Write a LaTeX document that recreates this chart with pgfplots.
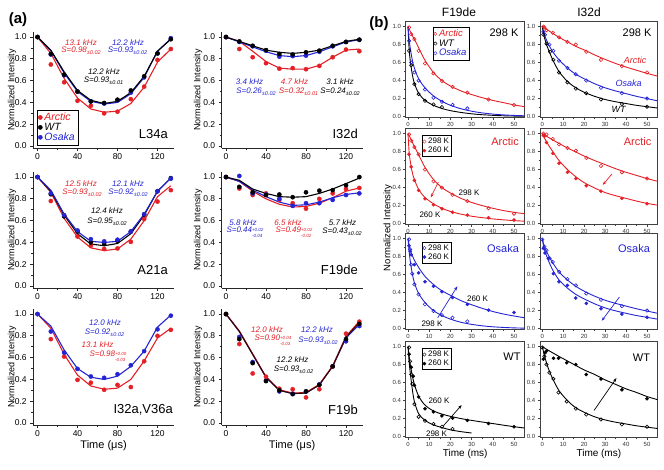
\documentclass[border=0pt]{standalone}
\usepackage{fontspec}
\setmainfont{Liberation Sans}
\usepackage{pgfplots}
\pgfplotsset{compat=1.18}
\usepackage{pgfplotstable}
\usetikzlibrary{arrows.meta}
\definecolor{redA}{RGB}{228,32,38}
\definecolor{blueA}{RGB}{36,36,212}
\newcommand{\fs}[1]{\fontsize{#1}{#1}\selectfont}
\newcommand{\pmv}[1]{\raisebox{-0.55ex}{\fs{5.5}±#1}}
\newcommand{\ud}[2]{\raisebox{-1.2ex}{\fs{4.5}\shortstack[l]{#1\\#2}}}
\newcommand{\A}[4]{\node[font=\fs{8}\itshape,text=#3,inner sep=0pt] at (#1pt,-#2pt) {#4};}
\newcommand{\B}[5]{\node[font=\fs{#4},text=#3,inner sep=0pt] at (#1pt,-#2pt) {#5};}

\pgfplotstableread{
t rp rf bp bf kp kf
0 1.00 1.00 1.00 1.00 1.00 1.00
13.33 0.748 0.85 0.84 0.875 0.845 0.88
26.67 0.585 0.62 0.65 0.67 0.655 0.68
40 0.415 0.44 0.50 0.50 0.50 0.51
53.33 0.37 0.34 0.41 0.41 0.41 0.42
66.67 0.30 0.31 0.39 0.385 0.395 0.39
80 0.315 0.32 0.42 0.40 0.425 0.41
93.33 0.43 0.39 0.49 0.48 0.51 0.49
106.67 0.545 0.54 0.63 0.63 0.64 0.64
120 0.79 0.77 0.85 0.87 0.85 0.87
133.33 0.89 0.89 0.99 0.985 0.98 0.98
}\tabLA
\pgfplotstableread{
t rp rf bp bf kp kf
0 1.00 1.00 1.00 1.00 1.00 1.00
13.33 0.89 0.96 0.955 0.955 0.96 0.96
26.67 0.815 0.87 0.915 0.91 0.92 0.92
40 0.76 0.775 0.875 0.865 0.88 0.88
53.33 0.71 0.715 0.82 0.83 0.845 0.86
66.67 0.715 0.705 0.825 0.82 0.84 0.85
80 0.705 0.705 0.83 0.83 0.86 0.86
93.33 0.735 0.74 0.865 0.865 0.875 0.88
106.67 0.815 0.815 0.915 0.91 0.92 0.92
120 0.885 0.88 0.955 0.955 0.955 0.96
133.33 0.87 0.89 0.975 0.975 0.975 0.98
}\tabID
\pgfplotstableread{
t rp rf bp bf kp kf
0 1.00 1.00 1.00 1.00 1.00 1.00
13.33 0.78 0.86 0.85 0.88 0.842 0.87
26.67 0.64 0.62 0.65 0.66 0.64 0.65
40 0.455 0.45 0.51 0.50 0.50 0.48
53.33 0.37 0.35 0.43 0.41 0.40 0.385
66.67 0.34 0.325 0.41 0.40 0.385 0.37
80 0.345 0.34 0.425 0.41 0.415 0.39
93.33 0.405 0.43 0.50 0.50 0.50 0.48
106.67 0.615 0.60 0.66 0.66 0.655 0.65
120 0.775 0.82 0.87 0.87 0.87 0.87
133.33 0.88 0.92 0.985 0.99 0.99 0.99
}\tabAA
\pgfplotstableread{
t rp rf bp bf kp kf
0 1.00 1.00 1.00 1.00 1.00 1.00
13.33 0.895 0.96 1.01 0.96 0.91 0.97
26.67 0.835 0.87 0.85 0.88 0.86 0.89
40 0.85 0.80 0.84 0.82 0.835 0.85
53.33 0.79 0.75 0.80 0.77 0.84 0.82
66.67 0.76 0.725 0.735 0.74 0.815 0.815
80 0.71 0.73 0.76 0.745 0.86 0.82
93.33 0.80 0.76 0.76 0.77 0.875 0.85
106.67 0.85 0.81 0.79 0.81 0.88 0.89
120 0.89 0.87 0.835 0.84 0.925 0.94
133.33 0.90 0.90 0.85 0.855 1.00 0.99
}\tabFD
\pgfplotstableread{
t rp rf bp bf
0 1.00 1.00 1.00 1.00
13.33 0.77 0.87 0.84 0.89
26.67 0.61 0.63 0.646 0.67
40 0.396 0.44 0.497 0.50
53.33 0.37 0.34 0.427 0.42
66.67 0.305 0.31 0.415 0.40
80 0.35 0.32 0.448 0.43
93.33 0.33 0.40 0.53 0.52
106.67 0.567 0.57 0.66 0.66
120 0.80 0.78 0.86 0.88
133.33 0.855 0.87 0.985 0.99
}\tabIV
\pgfplotstableread{
t rp rf bp bf kp kf
0 1.00 1.00 1.00 1.00 1.00 1.00
13.33 0.725 0.845 0.79 0.84 0.77 0.84
26.67 0.455 0.635 0.56 0.63 0.55 0.63
40 0.425 0.425 0.39 0.42 0.385 0.42
53.33 0.315 0.305 0.29 0.30 0.30 0.30
66.67 0.31 0.275 0.27 0.27 0.265 0.27
80 0.235 0.28 0.29 0.275 0.29 0.275
93.33 0.31 0.355 0.355 0.35 0.35 0.35
106.67 0.52 0.525 0.52 0.52 0.52 0.52
120 0.82 0.795 0.75 0.78 0.77 0.79
133.33 0.93 0.935 0.89 0.905 0.91 0.92
}\tabFB

\pgfplotsset{
  aax/.style={scale only axis, width=140.8pt, height=116.6pt,
    xmin=-4.3, xmax=136.5, ymin=-0.02, ymax=1.05,
    axis x line*=bottom, axis y line*=left,
    xtick={0,40,80,120}, minor xtick={20,60,100},
    ytick={0,0.2,0.4,0.6,0.8,1.0}, minor ytick={0.1,0.3,0.5,0.7,0.9},
    tick align=outside, major tick length=3pt, minor tick length=1.8pt,
    axis line style={line width=0.8pt,black!85},
    every tick/.style={line width=0.7pt,black!85},
    tick label style={font=\fs{8.5}},
    /pgf/number format/assume math mode=true,
    xticklabel style={yshift=1.5pt},
    yticklabel style={/pgf/number format/.cd,fixed,fixed zerofill,precision=1},
    ylabel={Normalized Intensity},
    ylabel style={font=\fs{9}, at={(axis description cs:-0.15,0.5)}, anchor=center},
    clip=false},
  aR/.style={aax, ylabel style={at={(axis description cs:-0.168,0.5)}}},
  bax/.style={scale only axis, height=95.9pt,
    xmin=-1, xmax=55, ymin=-0.01, ymax=1.055,
    xtick={0,10,20,30,40,50}, minor xtick={5,15,25,35,45},
    ytick={0,0.2,0.4,0.6,0.8,1.0}, minor ytick={0.1,0.3,0.5,0.7,0.9},
    xtick pos=left, ytick pos=left, tick align=outside,
    major tick length=2.5pt, minor tick length=1.5pt,
    axis line style={line width=0.9pt,black!75},
    every tick/.style={line width=0.6pt,black!75},
    tick label style={font=\fs{6}, text=black!80},
    /pgf/number format/assume math mode=true,
    xticklabel style={yshift=1pt},
    yticklabel style={xshift=1pt,/pgf/number format/.cd,fixed,fixed zerofill,precision=1},
    clip=false},
  bL/.style={bax, width=118.7pt},
  bR/.style={bax, width=117.3pt},
  fitA/.style={line width=1.1pt, forget plot, mark=none},
  ptA/.style={only marks, mark=*, mark size=2.1pt, forget plot},
  fitB/.style={line width=0.9pt, smooth, tension=0.5, forget plot, mark=none},
  opB/.style={only marks, mark=o, mark size=1.7pt, mark options={fill=white, line width=0.6pt}, forget plot},
  fiB/.style={only marks, mark=*, mark size=1.6pt, forget plot},
  legB/.style={legend style={at={(0.136,0.93)}, anchor=north west, font=\fs{8}, draw=black, inner sep=0.5pt, row sep=-2pt, legend cell align=left}},
}

\begin{document}
\begin{tikzpicture}
\useasboundingbox (0pt,0pt) rectangle (664pt,-470pt);

% ================= panel (a) =================
% L34a
\begin{axis}[aax, at={(33.2pt,-148.2pt)}, anchor=south west,
  legend style={at={(0.027,0.027)}, anchor=south west, font=\fs{10.5}, draw=black, inner sep=1pt, row sep=-3pt, legend cell align=left}]
\addplot[redA, fitA] table[x=t,y=rf]{\tabLA};
\addplot[redA, ptA] table[x=t,y=rp]{\tabLA};
\addplot[blueA, fitA] table[x=t,y=bf]{\tabLA};
\addplot[blueA, ptA] table[x=t,y=bp]{\tabLA};
\addplot[black, fitA] table[x=t,y=kf]{\tabLA};
\addplot[black, ptA] table[x=t,y=kp]{\tabLA};
\addlegendimage{only marks, mark=*, mark size=2.1pt, redA}
\addlegendentry{\textcolor{redA}{\itshape Arctic}}
\addlegendimage{only marks, mark=*, mark size=2.1pt, black}
\addlegendentry{\itshape WT}
\addlegendimage{only marks, mark=*, mark size=2.1pt, blueA}
\addlegendentry{\textcolor{blueA}{\itshape Osaka}}
\end{axis}
% I32d
\begin{axis}[aR, at={(221.7pt,-148.2pt)}, anchor=south west]
\addplot[redA, fitA] table[x=t,y=rf]{\tabID};
\addplot[redA, ptA] table[x=t,y=rp]{\tabID};
\addplot[blueA, fitA] table[x=t,y=bf]{\tabID};
\addplot[blueA, ptA] table[x=t,y=bp]{\tabID};
\addplot[black, fitA] table[x=t,y=kf]{\tabID};
\addplot[black, ptA] table[x=t,y=kp]{\tabID};
\end{axis}
% A21a
\begin{axis}[aax, at={(33.2pt,-288.2pt)}, anchor=south west]
\addplot[redA, fitA] table[x=t,y=rf]{\tabAA};
\addplot[redA, ptA] table[x=t,y=rp]{\tabAA};
\addplot[black, fitA] table[x=t,y=kf]{\tabAA};
\addplot[black, ptA] table[x=t,y=kp]{\tabAA};
\addplot[blueA, fitA] table[x=t,y=bf]{\tabAA};
\addplot[blueA, ptA] table[x=t,y=bp]{\tabAA};
\end{axis}
% F19de
\begin{axis}[aR, at={(221.7pt,-288.2pt)}, anchor=south west]
\addplot[redA, fitA] table[x=t,y=rf]{\tabFD};
\addplot[redA, ptA] table[x=t,y=rp]{\tabFD};
\addplot[blueA, fitA] table[x=t,y=bf]{\tabFD};
\addplot[blueA, ptA] table[x=t,y=bp]{\tabFD};
\addplot[black, fitA] table[x=t,y=kf]{\tabFD};
\addplot[black, ptA] table[x=t,y=kp]{\tabFD};
\end{axis}
% I32a,V36a
\begin{axis}[aax, at={(33.2pt,-425.2pt)}, anchor=south west, xlabel={Time (μs)},
  xlabel style={font=\fs{11}, at={(axis description cs:0.5,0)}, anchor=center, yshift=-20pt}]
\addplot[redA, fitA] table[x=t,y=rf]{\tabIV};
\addplot[redA, ptA] table[x=t,y=rp]{\tabIV};
\addplot[blueA, fitA] table[x=t,y=bf]{\tabIV};
\addplot[blueA, ptA] table[x=t,y=bp]{\tabIV};
\end{axis}
% F19b
\begin{axis}[aR, at={(221.7pt,-425.2pt)}, anchor=south west, xlabel={Time (μs)},
  xlabel style={font=\fs{11}, at={(axis description cs:0.5,0)}, anchor=center, yshift=-20pt}]
\addplot[blueA, fitA] table[x=t,y=bf]{\tabFB};
\addplot[blueA, ptA] table[x=t,y=bp]{\tabFB};
\addplot[redA, fitA] table[x=t,y=rf]{\tabFB};
\addplot[redA, ptA] table[x=t,y=rp]{\tabFB};
\addplot[black!80!redA, fitA] table[x=t,y=kf]{\tabFB};
\addplot[black, ptA] table[x=t,y=kp]{\tabFB};
\end{axis}

% annotations (a)
\node[font=\fs{15}\bfseries, inner sep=0pt] at (18pt,-20pt) {(a)};
\A{81}{42.5}{redA}{13.1 kHz}
\A{81}{51}{redA}{S=0.98\pmv{0.02}}
\A{128}{42.5}{blueA}{12.2 kHz}
\A{127.5}{51}{blueA}{S=0.93\pmv{0.02}}
\A{104}{71.5}{black}{12.2 kHz}
\A{103.5}{81}{black}{S=0.93\pmv{0.01}}
\node[font=\fs{13}, anchor=east, inner sep=0pt] at (168pt,-134pt) {L34a};

\A{249.5}{82}{blueA}{3.4 kHz}
\A{256}{92}{blueA}{S=0.26\pmv{0.02}}
\A{294.5}{82}{redA}{4.7 kHz}
\A{298.5}{92}{redA}{S=0.32\pmv{0.01}}
\A{340}{82}{black}{3.1 kHz}
\A{340}{92}{black}{S=0.24\pmv{0.02}}
\node[font=\fs{13}, anchor=east, inner sep=0pt] at (358pt,-134pt) {I32d};

\A{81}{183.5}{redA}{12.5 kHz}
\A{82}{193}{redA}{S=0.93\pmv{0.02}}
\A{128}{183.5}{blueA}{12.1 kHz}
\A{128}{193}{blueA}{S=0.92\pmv{0.02}}
\A{107}{211}{black}{12.4 kHz}
\A{107}{222}{black}{S=0.95\pmv{0.02}}
\node[font=\fs{13}, anchor=east, inner sep=0pt] at (168pt,-270pt) {A21a};

\A{243}{222.5}{blueA}{5.8 kHz}
\A{245}{232}{blueA}{S=0.44\ud{+0.02}{-0.04}}
\A{288}{222.5}{redA}{6.5 kHz}
\A{294}{232}{redA}{S=0.49\ud{+0.02}{-0.02}}
\A{342.5}{222.5}{black}{5.7 kHz}
\A{342}{232}{black}{S=0.43\pmv{0.02}}
\node[font=\fs{13}, anchor=east, inner sep=0pt] at (358pt,-270pt) {F19de};

\A{105}{322.5}{blueA}{12.0 kHz}
\A{104.5}{333}{blueA}{S=0.92\pmv{0.02}}
\A{97.5}{345}{redA}{13.1 kHz}
\A{108}{356}{redA}{S=0.98\ud{+0.00}{-0.03}}
\node[font=\fs{13}, anchor=east, inner sep=0pt] at (173pt,-410pt) {I32a,V36a};

\A{267}{329.5}{redA}{12.0 kHz}
\A{273}{340.5}{redA}{S=0.90\ud{+0.04}{-0.03}}
\A{317}{329.5}{blueA}{12.2 kHz}
\A{318}{340.5}{blueA}{S=0.93\pmv{0.02}}
\A{292.5}{359.5}{black}{12.2 kHz}
\A{293.5}{370}{black}{S=0.93\pmv{0.02}}
\node[font=\fs{13}, anchor=east, inner sep=0pt] at (358pt,-410pt) {F19b};

% ================= panel (b) =================
% row 1 left
\begin{axis}[bL, at={(405.9pt,-117.5pt)}, anchor=south west,
  legend style={at={(0.228,0.944)}, anchor=north west, font=\fs{9.5}\itshape, draw=black, inner sep=0.5pt, row sep=-2.5pt, legend cell align=left}]
\addplot[redA, fitB] coordinates {(0,1.0)(0.5,0.975)(1,0.95)(2,0.9)(3,0.86)(5,0.765)(8,0.625)(12,0.49)(16,0.40)(20,0.34)(25,0.285)(30,0.245)(35,0.21)(40,0.18)(45,0.155)(50,0.13)(55,0.11)};
\addplot[redA, opB] coordinates {(0.5,0.99)(1.5,0.915)(3,0.86)(5,0.73)(8,0.59)(12,0.48)(16,0.395)(21,0.33)(28,0.265)(38,0.19)(50,0.13)};
\addplot[black, fitB] coordinates {(0,1.0)(0.5,0.76)(1,0.63)(2,0.47)(3,0.37)(5,0.26)(8,0.18)(12,0.125)(16,0.09)(20,0.066)(25,0.046)(30,0.031)(35,0.021)(40,0.014)(45,0.009)(50,0.006)(55,0.004)};
\addplot[black, opB] coordinates {(0.5,0.73)(1.5,0.57)(3,0.36)(5,0.25)(8,0.175)(12,0.135)(16,0.105)};
\addplot[blueA, fitB] coordinates {(0,1.0)(0.5,0.86)(1,0.77)(2,0.63)(3,0.54)(5,0.42)(8,0.32)(12,0.23)(16,0.17)(20,0.125)(25,0.087)(30,0.06)(35,0.041)(40,0.028)(45,0.019)(50,0.013)(55,0.009)};
\addplot[blueA, opB] coordinates {(0.5,0.84)(1.5,0.6)(3,0.49)(5,0.40)(8,0.30)(12,0.21)(16,0.165)(21,0.13)(28,0.09)};
\addlegendimage{only marks, mark=o, mark size=1.7pt, redA}
\addlegendentry{\textcolor{redA}{Arctic}}
\addlegendimage{only marks, mark=o, mark size=1.7pt, black}
\addlegendentry{WT}
\addlegendimage{only marks, mark=o, mark size=1.7pt, blueA}
\addlegendentry{\textcolor{blueA}{Osaka}}
\end{axis}
% row 1 right
\begin{axis}[bR, at={(540.2pt,-117.5pt)}, anchor=south west]
\addplot[redA, fitB] coordinates {(0,1.0)(2,0.97)(5,0.925)(8,0.88)(12,0.83)(16,0.78)(20,0.74)(25,0.685)(30,0.635)(35,0.59)(40,0.55)(45,0.515)(50,0.48)(55,0.45)};
\addplot[redA, opB] coordinates {(0.5,1.0)(1,0.99)(2,0.96)(5,0.93)(8,0.88)(12,0.83)(16,0.80)(21,0.72)(28,0.63)(38,0.56)(50,0.49)};
\addplot[blueA, fitB] coordinates {(0,1.0)(0.5,0.95)(1,0.91)(2,0.85)(3,0.8)(5,0.72)(8,0.63)(12,0.54)(16,0.47)(20,0.42)(25,0.365)(30,0.32)(35,0.285)(40,0.255)(45,0.225)(50,0.2)(55,0.175)};
\addplot[blueA, opB] coordinates {(0.5,0.94)(1.3,0.91)(3.4,0.80)(5.3,0.73)(8,0.62)(12,0.54)(16,0.47)(21,0.40)(28,0.32)(38,0.26)(50,0.20)};
\addplot[black, fitB] coordinates {(0,1.0)(0.5,0.93)(1,0.88)(2,0.8)(3,0.74)(5,0.63)(8,0.5)(12,0.39)(16,0.32)(20,0.27)(25,0.225)(30,0.19)(35,0.165)(40,0.145)(45,0.125)(50,0.11)(55,0.095)};
\addplot[black, opB] coordinates {(0.5,0.91)(2,0.81)(3.7,0.72)(5.3,0.63)(8,0.49)(12,0.38)(16,0.31)(21,0.26)(28,0.19)(38,0.14)(50,0.11)};
\end{axis}
% row 2 left
\begin{axis}[bL, legB, at={(405.9pt,-224.5pt)}, anchor=south west]
\addplot[redA, fitB] coordinates {(0,1.0)(0.5,0.98)(1,0.955)(2,0.905)(3,0.855)(5,0.765)(8,0.625)(12,0.49)(16,0.40)(20,0.34)(25,0.28)(30,0.235)(35,0.2)(40,0.17)(45,0.145)(50,0.125)(55,0.11)};
\addplot[redA, opB] coordinates {(0.5,0.99)(1.5,0.92)(3,0.85)(5,0.77)(8,0.60)(12,0.47)(16,0.40)(21,0.32)(28,0.25)(38,0.17)(50,0.11)};
\addplot[redA, fitB] coordinates {(0,1.0)(0.5,0.8)(1,0.7)(2,0.57)(3,0.49)(5,0.38)(8,0.29)(12,0.22)(16,0.17)(20,0.135)(25,0.105)(30,0.082)(35,0.066)(40,0.052)(45,0.042)(50,0.033)(55,0.027)};
\addplot[redA, fiB] coordinates {(0.5,0.77)(1.5,0.63)(3,0.48)(5,0.37)(8,0.275)(12,0.21)(16,0.165)(21,0.125)(28,0.095)(38,0.065)(50,0.04)};
\draw[-{Stealth[length=4pt,width=3pt]}, redA, line width=0.7pt] (axis cs:14.3,0.46) -- (axis cs:10.7,0.29);
\addlegendimage{only marks, mark=o, mark size=1.7pt, redA}
\addlegendentry{298 K}
\addlegendimage{only marks, mark=*, mark size=1.6pt, redA}
\addlegendentry{260 K}
\end{axis}
% row 2 right
\begin{axis}[bR, at={(540.2pt,-224.5pt)}, anchor=south west]
\addplot[redA, fitB] coordinates {(0,1.0)(2,0.97)(5,0.93)(8,0.89)(12,0.84)(16,0.795)(20,0.75)(25,0.70)(30,0.655)(35,0.61)(40,0.57)(45,0.535)(50,0.5)(55,0.47)};
\addplot[redA, opB] coordinates {(0.5,1.0)(1,0.98)(2,0.99)(5,0.94)(8,0.88)(12,0.84)(16,0.81)(21,0.73)(28,0.64)(38,0.57)(50,0.50)};
\addplot[redA, fitB] coordinates {(0,1.0)(1,0.95)(2,0.91)(3,0.87)(5,0.8)(8,0.7)(12,0.6)(16,0.52)(20,0.455)(25,0.395)(30,0.345)(35,0.31)(40,0.28)(45,0.25)(50,0.225)(55,0.205)};
\addplot[redA, fiB] coordinates {(0.5,0.98)(1,0.97)(2,0.90)(5,0.78)(8,0.67)(12,0.57)(16,0.50)(21,0.42)(28,0.36)(38,0.28)(50,0.22)};
\draw[-{Stealth[length=4pt,width=3pt]}, redA, line width=0.7pt] (axis cs:33.2,0.55) -- (axis cs:28.9,0.43);
\end{axis}
% row 3 left
\begin{axis}[bL, legB, at={(405.9pt,-329.5pt)}, anchor=south west, legend style={at={(0.136,0.915)}}]
\addplot[blueA, fitB] coordinates {(0,1.0)(0.5,0.86)(1,0.76)(2,0.61)(3,0.51)(5,0.39)(8,0.29)(12,0.2)(16,0.145)(20,0.105)(25,0.07)(30,0.047)(35,0.031)(40,0.02)(45,0.013)(50,0.008)(55,0.005)};
\addplot[blueA, opB] coordinates {(0.5,0.99)(1,0.88)(1.5,0.71)(2,0.61)(3,0.49)(5,0.38)(8,0.27)(12,0.195)(16,0.15)(21,0.12)(28,0.08)};
\addplot[blueA, fitB] coordinates {(0,1.0)(0.5,0.93)(1,0.88)(2,0.81)(3,0.76)(5,0.68)(8,0.58)(12,0.49)(16,0.42)(20,0.37)(25,0.31)(30,0.265)(35,0.225)(40,0.19)(45,0.162)(50,0.14)(55,0.12)};
\addplot[blueA, fiB] coordinates {(0.5,0.92)(1,0.86)(1.5,0.82)(3,0.71)(5,0.62)(8,0.52)(12,0.47)(16,0.41)(21,0.345)(28,0.27)(38,0.205)(50,0.18)};
\draw[-{Stealth[length=4pt,width=3pt]}, blueA, line width=0.7pt] (axis cs:14,0.12) -- (axis cs:23.3,0.47);
\addlegendimage{only marks, mark=o, mark size=1.7pt, blueA}
\addlegendentry{298 K}
\addlegendimage{only marks, mark=*, mark size=1.6pt, blueA}
\addlegendentry{260 K}
\end{axis}
% row 3 right
\begin{axis}[bR, at={(540.2pt,-329.5pt)}, anchor=south west]
\addplot[blueA, fitB] coordinates {(0,1.0)(0.5,0.95)(1,0.91)(2,0.86)(3,0.81)(5,0.73)(8,0.63)(12,0.54)(16,0.47)(20,0.415)(25,0.36)(30,0.315)(35,0.28)(40,0.25)(45,0.22)(50,0.195)(55,0.17)};
\addplot[blueA, opB] coordinates {(0,0.99)(1,0.91)(2,0.87)(3.5,0.78)(5,0.74)(8,0.63)(12,0.55)(16,0.48)(21,0.39)(28,0.32)(38,0.25)(50,0.20)};
\addplot[blueA, fitB] coordinates {(0,1.0)(0.5,0.93)(1,0.88)(2,0.81)(3,0.75)(5,0.65)(8,0.54)(12,0.45)(16,0.38)(20,0.33)(25,0.275)(30,0.23)(35,0.197)(40,0.17)(45,0.145)(50,0.125)(55,0.105)};
\addplot[blueA, fiB] coordinates {(0.5,0.89)(1.3,0.84)(2.9,0.78)(5.3,0.61)(8,0.52)(12,0.48)(16,0.34)(21,0.28)(28,0.22)(38,0.16)(50,0.125)};
\draw[-{Stealth[length=4pt,width=3pt]}, blueA, line width=0.7pt] (axis cs:36.8,0.35) -- (axis cs:28.4,0.087);
\end{axis}
% row 4 left
\begin{axis}[bL, legB, at={(405.9pt,-437.5pt)}, anchor=south west, xlabel={Time (ms)},
  xlabel style={font=\fs{10}, at={(axis description cs:0.5,0)}, anchor=center, yshift=-16pt}]
\addplot[black, fitB] coordinates {(0,1.0)(0.5,0.84)(1,0.72)(2,0.53)(3,0.39)(5,0.255)(8,0.18)(12,0.13)(16,0.1)(20,0.075)(25,0.055)(30,0.04)};
\addplot[black, opB] coordinates {(0.5,0.99)(1,0.835)(1.5,0.69)(2,0.585)(3,0.36)(5,0.22)(8,0.175)(12,0.14)(16,0.11)(21,0.085)};
\addplot[black, fitB] coordinates {(0,1.0)(0.5,0.9)(1,0.81)(2,0.68)(3,0.58)(5,0.45)(8,0.35)(12,0.285)(16,0.25)(20,0.225)(25,0.2)(30,0.18)(35,0.162)(40,0.145)(45,0.127)(50,0.11)(55,0.095)};
\addplot[black, fiB] coordinates {(0.5,0.915)(1.5,0.77)(2.5,0.67)(3,0.57)(5,0.44)(8,0.31)(12,0.275)(16,0.23)(21,0.205)(28,0.18)(38,0.145)(50,0.11)};
\draw[-{Stealth[length=4pt,width=3pt]}, black, line width=0.7pt] (axis cs:16.7,0.12) -- (axis cs:25.3,0.35);
\addlegendimage{only marks, mark=o, mark size=1.7pt, black}
\addlegendentry{298 K}
\addlegendimage{only marks, mark=*, mark size=1.6pt, black}
\addlegendentry{260 K}
\end{axis}
% row 4 right
\begin{axis}[bR, at={(540.2pt,-437.5pt)}, anchor=south west, xlabel={Time (ms)},
  xlabel style={font=\fs{10}, at={(axis description cs:0.5,0)}, anchor=center, yshift=-16pt}]
\addplot[black, fitB] coordinates {(0,1.0)(0.5,0.95)(1,0.9)(2,0.82)(3,0.75)(5,0.64)(8,0.51)(12,0.4)(16,0.32)(20,0.27)(25,0.22)(30,0.185)(35,0.16)(40,0.14)(45,0.12)(50,0.105)(55,0.09)};
\addplot[black, opB] coordinates {(0,0.99)(1,0.89)(2,0.80)(3.4,0.71)(5.3,0.64)(7.7,0.49)(11.7,0.39)(16,0.31)(21,0.245)(28,0.19)(38,0.135)(50,0.11)};
\addplot[black, fitB] coordinates {(0,1.0)(2,0.97)(5,0.93)(8,0.89)(12,0.84)(16,0.79)(20,0.74)(25,0.69)(30,0.63)(35,0.58)(40,0.53)(45,0.49)(50,0.445)(55,0.41)};
\addplot[black, fiB] coordinates {(0.5,0.86)(1.3,0.93)(2,0.95)(5.3,0.87)(7.7,0.87)(11.7,0.82)(16,0.80)(21,0.69)(28,0.64)(38,0.52)(50,0.42)};
\draw[-{Stealth[length=4pt,width=3pt]}, black, line width=0.7pt] (axis cs:24.7,0.29) -- (axis cs:35.4,0.65);
\end{axis}

% annotations (b)
\node[font=\fs{15}\bfseries, inner sep=0pt] at (379pt,-24pt) {(b)};
\B{459}{12.5}{black}{12}{F19de}
\B{589}{12.5}{black}{12}{I32d}
\node[font=\fs{9.5}, rotate=90, inner sep=0pt] at (388pt,-228pt) {Normalized Intensity};
\B{504}{32.5}{black}{11}{298 K}
\B{637}{32.5}{black}{11}{298 K}
\node[font=\fs{9}\itshape, text=redA, inner sep=0pt] at (635pt,-60pt) {Arctic};
\node[font=\fs{9}\itshape, text=blueA, inner sep=0pt] at (628.5pt,-83pt) {Osaka};
\node[font=\fs{9}\itshape, text=black, inner sep=0pt] at (618.5pt,-109pt) {WT};
\B{505}{142}{redA}{11}{Arctic}
\B{637.5}{142}{redA}{11}{Arctic}
\B{469}{193}{black}{8}{298 K}
\B{430}{214.5}{black}{8}{260 K}
\B{503}{248.5}{blueA}{11}{Osaka}
\B{634}{249}{blueA}{11}{Osaka}
\B{477.5}{298.5}{black}{8}{260 K}
\B{432}{323.5}{black}{8}{298 K}
\B{512}{357}{black}{11}{WT}
\B{641.5}{358}{black}{11}{WT}
\B{439}{400.5}{black}{8}{260 K}
\B{436.5}{433.5}{black}{8}{298 K}
\end{tikzpicture}
\end{document}
